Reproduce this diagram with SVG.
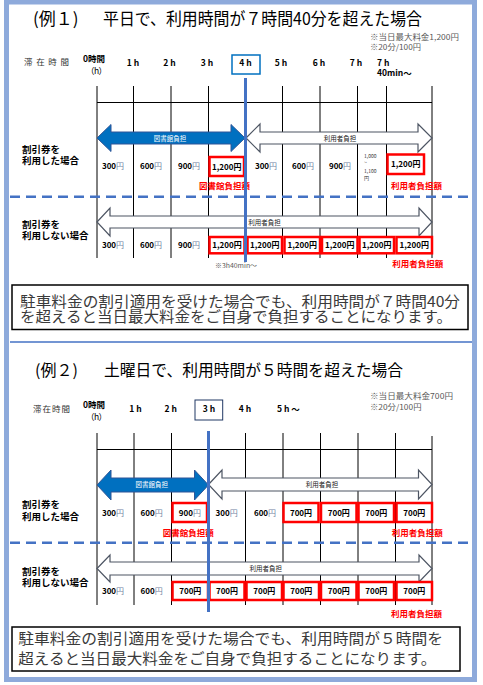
<svg xmlns="http://www.w3.org/2000/svg" width="483" height="685" viewBox="0 0 483 685">
<style>
text{font-family:"Noto Sans CJK JP","Noto Sans",sans-serif;}
.title{font-size:17px;fill:#000;}
.title2{font-size:16px;fill:#000;}
.note{font-size:8px;fill:#595959;}
.tl{font-size:8.5px;font-weight:bold;fill:#000;}
.tlc{font-size:8.5px;font-weight:bold;fill:#000;text-anchor:middle;}
.lbl{font-size:9.5px;font-weight:bold;fill:#000;}
.pr{font-size:8px;font-weight:bold;fill:#000;text-anchor:middle;}
.yen{font-weight:normal;fill:#6f7f9f;}
.red{font-size:8.5px;font-weight:bold;fill:#ff0000;text-anchor:middle;}
.atw{font-size:6.5px;fill:#fff;text-anchor:middle;}
.atb{font-size:6.5px;fill:#222;text-anchor:middle;}
.msg{font-size:15px;fill:#3a3a3a;}
.grid{stroke:#000;stroke-width:1;fill:none;}
.blue{stroke:#4472c4;stroke-width:3;}
.dash{stroke:#4472c4;stroke-width:2.5;stroke-dasharray:10 6;fill:none;}
.rbox{fill:#fff;stroke:#ff0000;stroke-width:2.5;}
.barrow{fill:#0070c0;stroke:#2f5597;stroke-width:1;}
.warrow{fill:#fff;stroke:#4d5563;stroke-width:1.2;}
.tbox{fill:#fff;stroke:#000;stroke-width:1.5;}
.small{font-size:5px;fill:#333;}
</style>
<rect x="0" y="0" width="483" height="685" fill="#fff"/>
<rect id="frame" x="6.5" y="2" width="468" height="677.5" fill="#fff" stroke="#8eaadb" stroke-width="5"/>
<line x1="10" y1="342" x2="472" y2="342" stroke="#4472c4" stroke-width="1.4"/>

<!-- Section 1 -->
<g id="s1-title">
<text class="title" y="25"><tspan x="33">(例１)</tspan><tspan x="103" textLength="319" lengthAdjust="spacingAndGlyphs">平日で、利用時間が７時間40分を超えた場合</tspan></text>
</g>
<g id="s1-notes">
<text class="note" x="370" y="40" textLength="89" lengthAdjust="spacingAndGlyphs">※当日最大料金1,200円</text>
<text class="note" x="370" y="50" textLength="51" lengthAdjust="spacingAndGlyphs">※20分/100円</text>
</g>
<g id="s1-timeline">
<text class="tl" x="24" y="65" textLength="45" lengthAdjust="spacing" style="font-weight:normal;fill:#333">滞在時間</text>
<text class="tl" x="83" y="61.5"><tspan x="83">0時間</tspan><tspan x="86" y="73.5" style="font-weight:normal" textLength="21" lengthAdjust="spacing">（h）</tspan></text>
<text class="tlc" x="133" y="65.5">1 h</text>
<text class="tlc" x="169.5" y="65.5">2 h</text>
<text class="tlc" x="207" y="65.5">3 h</text>
<rect x="232" y="55" width="28" height="19" fill="none" stroke="#0070c0" stroke-width="1.5"/>
<text class="tlc" x="245.5" y="65.5">4 h</text>
<text class="tlc" x="281" y="65.5">5 h</text>
<text class="tlc" x="319" y="65.5">6 h</text>
<text class="tlc" x="356" y="65.5">7 h</text>
<text class="tl" x="377" y="65.5"><tspan x="377">7 h</tspan><tspan x="377" y="76">40min〜</tspan></text>
</g>
<g id="s1-grid">
<path class="grid" d="M97,86V258M133.5,86V258M171,86V258M208.5,86V258M282.5,86V258M320,86V258M357.5,86V258M386.5,86V258M432,86V258M97,102.5H432"/>
</g>
<g id="s2-grid">
<path class="grid" d="M97,433V605M134,433V605M171.5,433V605M245.5,433V605M283,433V605M320.5,433V605M358,433V605M395.5,433V605M432,436V605M97,449.5H432"/>
</g>
<g id="connectors">
<polygon class="barrow" points="97,138 111,124.5 111,132 231,132 231,124.5 245,138 231,151.5 231,144 111,144 111,151.5"/>
<polygon class="warrow" points="246,138 260,124 260,132 418,132 418,124 432,138 418,152 418,144 260,144 260,152"/>
<polygon class="warrow" points="97,222 110,208 110,216 419,216 419,208 432,222 419,236 419,228 110,228 110,236"/>
<polygon class="barrow" points="97,485 111,470 111,478 194.5,478 194.5,470 208.5,485 194.5,500 194.5,492 111,492 111,500"/>
<polygon class="warrow" points="208.5,484.5 222,470 222,478 418.5,478 418.5,470 432,484.5 418.5,499 418.5,491 222,491 222,499"/>
<polygon class="warrow" points="97,568.5 110,555 110,562 419,562 419,555 432,568.5 419,582 419,575 110,575 110,582"/>
</g>
<g id="arrow-labels">
<text class="atw" x="170" y="140.5">図書館負担</text>
<text class="atb" x="340" y="140.5">利用者負担</text>
<text class="atb" x="264.5" y="224.5">利用者負担</text>
<text class="atw" x="151.7" y="487.3">図書館負担</text>
<text class="atb" x="322" y="487">利用者負担</text>
<text class="atb" x="265.7" y="571">利用者負担</text>
</g>
<g id="s1-row1">
<text class="lbl" x="22" y="152.5"><tspan x="22">割引券を</tspan><tspan x="22" y="163.5">利用した場合</tspan></text>
<text class="pr" x="113" y="168.5">300<tspan class="yen">円</tspan></text>
<text class="pr" x="151" y="168.5">600<tspan class="yen">円</tspan></text>
<text class="pr" x="189" y="168.5">900<tspan class="yen">円</tspan></text>
<rect class="rbox" x="209.5" y="157" width="34.5" height="19"/>
<text class="pr" x="226.8" y="169.5">1,200円</text>
<text class="pr" x="266" y="168.5">300<tspan class="yen">円</tspan></text>
<text class="pr" x="303" y="168.5">600<tspan class="yen">円</tspan></text>
<text class="pr" x="340" y="168.5">900<tspan class="yen">円</tspan></text>
<text class="small" x="364" y="158"><tspan x="364">1,000</tspan><tspan x="364" y="164">~</tspan><tspan x="364" y="173">1,100</tspan><tspan x="364" y="180">円</tspan></text>
<rect class="rbox" x="387.5" y="154.5" width="36.5" height="19.5"/>
<text class="pr" x="405.7" y="167">1,200円</text>
<text class="red" x="224.5" y="189">図書館負担額</text>
<text class="red" x="416.5" y="189">利用者負担額</text>
</g>
<line class="dash" x1="10" y1="196.7" x2="471" y2="196.7"/>
<g id="s1-row2">
<text class="lbl" x="22" y="227.5"><tspan x="22">割引券を</tspan><tspan x="22" y="239">利用しない場合</tspan></text>
<text class="pr" x="113" y="247.5">300<tspan class="yen">円</tspan></text>
<text class="pr" x="151" y="247.5">600<tspan class="yen">円</tspan></text>
<text class="pr" x="189" y="247.5">900<tspan class="yen">円</tspan></text>
<rect class="rbox" x="209.5" y="237" width="35" height="16.3"/>
<rect class="rbox" x="247.5" y="237" width="34.5" height="16.3"/>
<rect class="rbox" x="284.5" y="237" width="35.5" height="16.3"/>
<rect class="rbox" x="322" y="237" width="35.5" height="16.3"/>
<rect class="rbox" x="359.5" y="237" width="34.5" height="16.3"/>
<rect class="rbox" x="396.5" y="237" width="35.5" height="16.3"/>
<text class="pr" x="227" y="248">1,200円</text>
<text class="pr" x="264.8" y="248">1,200円</text>
<text class="pr" x="302.3" y="248">1,200円</text>
<text class="pr" x="339.8" y="248">1,200円</text>
<text class="pr" x="376.8" y="248">1,200円</text>
<text class="pr" x="414.3" y="248">1,200円</text>
<text style="font-size:6.5px;fill:#595959" x="215" y="267.5" textLength="42" lengthAdjust="spacingAndGlyphs">※3h40min〜</text>
<text class="red" x="417.8" y="267">利用者負担額</text>
</g>
<line class="blue" x1="245.5" y1="78" x2="245.5" y2="262"/>
<g id="s1-message">
<rect class="tbox" x="12" y="285" width="456" height="44.5"/>
<text class="msg" x="20" y="306.5"><tspan x="20" textLength="440" lengthAdjust="spacingAndGlyphs">駐車料金の割引適用を受けた場合でも、利用時間が７時間40分</tspan><tspan x="20" y="322" textLength="432" lengthAdjust="spacingAndGlyphs">を超えると当日最大料金をご自身で負担することになります。</tspan></text>
</g>

<!-- Section 2 -->
<g id="s2-title">
<text class="title2" y="375.5"><tspan x="35">(例２)</tspan><tspan x="104" textLength="299" lengthAdjust="spacingAndGlyphs">土曜日で、利用時間が５時間を超えた場合</tspan></text>
</g>
<g id="s2-notes">
<text class="note" x="370" y="399" textLength="83" lengthAdjust="spacingAndGlyphs">※当日最大料金700円</text>
<text class="note" x="370" y="410" textLength="51.5" lengthAdjust="spacingAndGlyphs">※20分/100円</text>
</g>
<g id="s2-timeline">
<text class="tl" x="33" y="412" textLength="37" lengthAdjust="spacing" style="font-weight:normal;fill:#333">滞在時間</text>
<text class="tl" x="83" y="408"><tspan x="83">0時間</tspan><tspan x="86" y="420" style="font-weight:normal" textLength="21" lengthAdjust="spacing">（h）</tspan></text>
<text class="tlc" x="135.5" y="412">1 h</text>
<text class="tlc" x="170.7" y="412">2 h</text>
<rect x="195" y="400" width="27.7" height="20" fill="none" stroke="#203864" stroke-width="1"/>
<text class="tlc" x="209" y="412">3 h</text>
<text class="tlc" x="245" y="412">4 h</text>
<text class="tl" x="277" y="412">5 h 〜</text>
</g>
<g id="s2-row1">
<text class="lbl" x="22" y="507.5"><tspan x="22">割引券を</tspan><tspan x="22" y="520">利用した場合</tspan></text>
<text class="pr" x="113" y="515.5">300<tspan class="yen">円</tspan></text>
<text class="pr" x="151.7" y="515.5">600<tspan class="yen">円</tspan></text>
<rect class="rbox" x="172.5" y="503" width="34.5" height="19"/>
<text class="pr" x="189.8" y="515.5">900<tspan class="yen">円</tspan></text>
<text class="pr" x="226.7" y="515.5">300<tspan class="yen">円</tspan></text>
<text class="pr" x="265" y="515.5">600<tspan class="yen">円</tspan></text>
<rect class="rbox" x="283.5" y="503" width="35" height="19"/>
<rect class="rbox" x="321" y="503" width="35.5" height="19"/>
<rect class="rbox" x="358.5" y="503" width="35.5" height="19"/>
<rect class="rbox" x="396.5" y="503" width="35.5" height="19"/>
<text class="pr" x="301" y="515.5">700円</text>
<text class="pr" x="338.8" y="515.5">700円</text>
<text class="pr" x="376.3" y="515.5">700円</text>
<text class="pr" x="414.3" y="515.5">700円</text>
<text class="red" x="188.3" y="535.5">図書館負担額</text>
<text class="red" x="417.3" y="535.5">利用者負担額</text>
</g>
<line class="dash" x1="10" y1="542.7" x2="471" y2="542.7"/>
<g id="s2-row2">
<text class="lbl" x="22" y="574.5"><tspan x="22">割引券を</tspan><tspan x="22" y="585.5">利用しない場合</tspan></text>
<text class="pr" x="113" y="593.5">300<tspan class="yen">円</tspan></text>
<text class="pr" x="151.7" y="593.5">600<tspan class="yen">円</tspan></text>
<rect class="rbox" x="172.5" y="582" width="35.5" height="18"/>
<rect class="rbox" x="209.5" y="582" width="35" height="18"/>
<rect class="rbox" x="246.5" y="582" width="35.5" height="18"/>
<rect class="rbox" x="283.5" y="582" width="35.5" height="18"/>
<rect class="rbox" x="321" y="582" width="35.5" height="18"/>
<rect class="rbox" x="358.5" y="582" width="35.5" height="18"/>
<rect class="rbox" x="396.5" y="582" width="35.5" height="18"/>
<text class="pr" x="190.3" y="593.8">700円</text>
<text class="pr" x="227" y="593.8">700円</text>
<text class="pr" x="264.3" y="593.8">700円</text>
<text class="pr" x="301.3" y="593.8">700円</text>
<text class="pr" x="338.8" y="593.8">700円</text>
<text class="pr" x="376.3" y="593.8">700円</text>
<text class="pr" x="414.3" y="593.8">700円</text>
<text class="red" x="416.5" y="617">利用者負担額</text>
</g>
<line class="blue" x1="208.5" y1="431" x2="208.5" y2="612"/>
<g id="s2-message">
<rect class="tbox" x="12" y="627" width="448" height="44"/>
<text class="msg" x="18.3" y="644"><tspan x="18.3" textLength="424.7" lengthAdjust="spacingAndGlyphs">駐車料金の割引適用を受けた場合でも、利用時間が５時間を</tspan><tspan x="18.3" y="664" textLength="418" lengthAdjust="spacingAndGlyphs">超えると当日最大料金をご自身で負担することになります。</tspan></text>
</g>
</svg>
